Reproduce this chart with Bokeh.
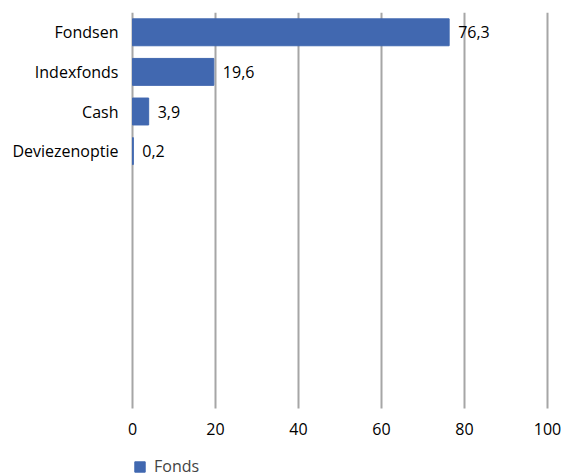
from bokeh.plotting import figure
from bokeh.models import Range1d, FixedTicker, ColumnDataSource, Legend, LegendItem
from bokeh.core.properties import value
from bokeh.embed import file_html
from bokeh.resources import INLINE

categories = ["Fondsen", "Indexfonds", "Cash", "Deviezenoptie"]
values = [76.3, 19.6, 3.9, 0.2]
labels = ["76,3", "19,6", "3,9", "0,2"]
series_name = "Fonds"
n_slots = 10
x_ticks = [0, 20, 40, 60, 80, 100]

FONT = "Open Sans"
FS = "16px"
BAR = "#4168B0"
GRID = "#A6A6A6"

# layout constants (pixels)
PX_PER_UNIT = 4.15
ZERO_PX = 132
FRAME_LEFT = 120
FRAME_RIGHT = 562
PLOT_H = 396
FRAME_H = 465
x_start = -(ZERO_PX - FRAME_LEFT) / PX_PER_UNIT
x_end = (FRAME_RIGHT - ZERO_PX) / PX_PER_UNIT
y_end = n_slots * FRAME_H / PLOT_H

pos = [i + 0.5 for i in range(len(categories))]
src = ColumnDataSource(dict(y=pos, v=values, lab=labels))
grid_src = ColumnDataSource(dict(x=x_ticks, y0=[0] * len(x_ticks), y1=[n_slots] * len(x_ticks)))

p = figure(frame_width=FRAME_RIGHT - FRAME_LEFT, frame_height=FRAME_H, output_backend="svg",
           toolbar_location=None,
           x_range=Range1d(x_start, x_end), y_range=Range1d(y_end, 0),
           min_border_left=FRAME_LEFT, min_border_right=0, min_border_top=12, min_border_bottom=0)
p.outline_line_color = None

p.segment(x0="x", y0="y0", x1="x", y1="y1", source=grid_src, line_color=GRID, line_width=2)
r = p.hbar(y="y", right="v", left=0, height=0.68, source=src, color=BAR, line_color=BAR)
p.text(x="v", y="y", text="lab", source=src, x_offset=9, text_baseline="middle",
       text_align="left", text_font=value(FONT), text_font_size=FS, text_color="#000000")

p.xaxis.fixed_location = n_slots
p.xaxis.ticker = FixedTicker(ticks=x_ticks)
p.xaxis.axis_line_color = None
p.xaxis.major_tick_line_color = None
p.xaxis.minor_tick_line_color = None
p.xaxis.major_tick_out = 0
p.xaxis.major_tick_in = 0
p.xaxis.major_label_standoff = 14
p.xaxis.major_label_text_font = FONT
p.xaxis.major_label_text_font_size = FS
p.xaxis.major_label_text_color = "#000000"

p.yaxis.ticker = FixedTicker(ticks=pos)
p.yaxis.major_label_overrides = {pos[i]: categories[i] for i in range(len(categories))}
p.yaxis.axis_line_color = None
p.yaxis.major_tick_line_color = None
p.yaxis.minor_tick_line_color = None
p.yaxis.major_tick_out = 0
p.yaxis.major_tick_in = 0
p.yaxis.major_label_standoff = 2
p.yaxis.major_label_text_font = FONT
p.yaxis.major_label_text_font_size = FS
p.yaxis.major_label_text_color = "#000000"

p.xgrid.visible = False
p.ygrid.visible = False

legend = Legend(items=[LegendItem(label=series_name, renderers=[r])],
                location=(ZERO_PX - FRAME_LEFT + 1, 0), orientation="horizontal",
                label_text_font=FONT, label_text_font_size=FS,
                glyph_width=13, glyph_height=13, padding=0, margin=0, spacing=0,
                label_standoff=8, border_line_color=None, background_fill_alpha=0)
p.add_layout(legend)

open("out.html", "w").write(file_html(p, INLINE))
